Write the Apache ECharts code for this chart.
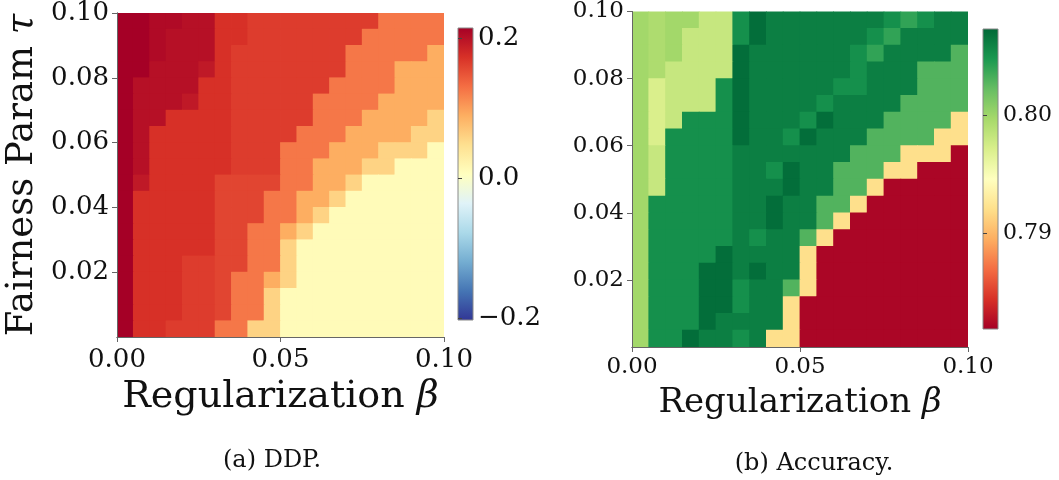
<!DOCTYPE html>
<html>
<head>
<meta charset="utf-8">
<script src="https://cdn.jsdelivr.net/npm/echarts@6/dist/echarts.min.js"></script>
<style>
  html, body { margin: 0; padding: 0; background: #fff; }
  #chart { width: 1059px; height: 480px; }
</style>
</head>
<body>
<div id="chart"></div>
<script>
// Grid cells: 20 regularization levels (columns) x 20 fairness levels (rows, top to bottom)
const betaLevels = ['0.0025','0.0075','0.0125','0.0175','0.0225','0.0275','0.0325','0.0375','0.0425','0.0475',
                    '0.0525','0.0575','0.0625','0.0675','0.0725','0.0775','0.0825','0.0875','0.0925','0.0975'];
const tauLevels = ['0.0975','0.0925','0.0875','0.0825','0.0775','0.0725','0.0675','0.0625','0.0575','0.0525',
                   '0.0475','0.0425','0.0375','0.0325','0.0275','0.0225','0.0175','0.0125','0.0075','0.0025'];

// DDP per cell, rows from tau = 0.0975 down to tau = 0.0025
const ddpValues = [
  [0.214,0.214,0.205,0.205,0.200,0.200,0.172,0.172,0.164,0.164,0.164,0.164,0.164,0.164,0.164,0.164,0.124,0.124,0.124,0.124],
  [0.214,0.214,0.205,0.200,0.200,0.200,0.172,0.172,0.164,0.164,0.164,0.164,0.164,0.164,0.164,0.124,0.124,0.124,0.124,0.124],
  [0.214,0.214,0.205,0.200,0.200,0.200,0.172,0.164,0.164,0.164,0.164,0.164,0.164,0.164,0.124,0.124,0.124,0.124,0.124,0.089],
  [0.214,0.214,0.200,0.200,0.200,0.192,0.172,0.164,0.164,0.164,0.164,0.164,0.164,0.164,0.124,0.124,0.124,0.089,0.089,0.089],
  [0.214,0.200,0.200,0.200,0.200,0.172,0.172,0.164,0.164,0.164,0.164,0.164,0.164,0.124,0.124,0.124,0.124,0.089,0.089,0.089],
  [0.214,0.200,0.200,0.200,0.192,0.172,0.172,0.164,0.164,0.164,0.164,0.164,0.124,0.124,0.124,0.124,0.089,0.089,0.089,0.089],
  [0.214,0.200,0.200,0.172,0.172,0.172,0.172,0.164,0.164,0.164,0.164,0.164,0.124,0.124,0.124,0.089,0.089,0.089,0.089,0.058],
  [0.214,0.200,0.172,0.172,0.172,0.172,0.172,0.164,0.164,0.164,0.164,0.124,0.124,0.124,0.089,0.089,0.089,0.089,0.058,0.058],
  [0.214,0.200,0.172,0.172,0.172,0.172,0.172,0.164,0.164,0.164,0.124,0.124,0.124,0.089,0.089,0.089,0.058,0.058,0.058,0.011],
  [0.214,0.200,0.172,0.172,0.172,0.172,0.172,0.164,0.164,0.164,0.124,0.124,0.089,0.089,0.089,0.058,0.058,0.011,0.011,0.011],
  [0.214,0.192,0.172,0.172,0.172,0.172,0.158,0.158,0.158,0.158,0.124,0.124,0.089,0.089,0.058,0.011,0.011,0.011,0.011,0.011],
  [0.214,0.172,0.172,0.172,0.172,0.172,0.158,0.158,0.158,0.124,0.124,0.089,0.089,0.058,0.011,0.011,0.011,0.011,0.011,0.011],
  [0.214,0.172,0.172,0.172,0.172,0.172,0.158,0.158,0.158,0.124,0.124,0.089,0.058,0.011,0.011,0.011,0.011,0.011,0.011,0.011],
  [0.214,0.172,0.172,0.172,0.172,0.172,0.158,0.158,0.124,0.124,0.089,0.058,0.011,0.011,0.011,0.011,0.011,0.011,0.011,0.011],
  [0.214,0.172,0.172,0.172,0.172,0.172,0.158,0.158,0.124,0.124,0.058,0.011,0.011,0.011,0.011,0.011,0.011,0.011,0.011,0.011],
  [0.214,0.172,0.172,0.172,0.164,0.164,0.158,0.158,0.124,0.124,0.058,0.011,0.011,0.011,0.011,0.011,0.011,0.011,0.011,0.011],
  [0.214,0.172,0.172,0.172,0.164,0.164,0.158,0.124,0.124,0.089,0.058,0.011,0.011,0.011,0.011,0.011,0.011,0.011,0.011,0.011],
  [0.214,0.172,0.172,0.172,0.164,0.164,0.158,0.124,0.124,0.058,0.011,0.011,0.011,0.011,0.011,0.011,0.011,0.011,0.011,0.011],
  [0.214,0.172,0.172,0.172,0.164,0.164,0.158,0.124,0.124,0.058,0.011,0.011,0.011,0.011,0.011,0.011,0.011,0.011,0.011,0.011],
  [0.214,0.172,0.172,0.164,0.164,0.164,0.124,0.124,0.058,0.058,0.011,0.011,0.011,0.011,0.011,0.011,0.011,0.011,0.011,0.011]
];

// Accuracy per cell, same layout
const accValues = [
  [0.7998,0.7993,0.7998,0.7998,0.7981,0.7981,0.8052,0.8070,0.8061,0.8061,0.8061,0.8061,0.8061,0.8061,0.8061,0.8052,0.8040,0.8052,0.8061,0.8061],
  [0.7998,0.7993,0.7998,0.7981,0.7981,0.7981,0.8052,0.8070,0.8061,0.8061,0.8061,0.8061,0.8061,0.8061,0.8052,0.8040,0.8061,0.8061,0.8061,0.8061],
  [0.7998,0.7993,0.7998,0.7981,0.7981,0.7981,0.8070,0.8061,0.8061,0.8061,0.8061,0.8061,0.8061,0.8052,0.8040,0.8061,0.8061,0.8061,0.8061,0.8029],
  [0.7998,0.7993,0.7981,0.7981,0.7981,0.7981,0.8070,0.8061,0.8061,0.8061,0.8061,0.8061,0.8061,0.8052,0.8061,0.8061,0.8061,0.8029,0.8029,0.8029],
  [0.7998,0.7971,0.7981,0.7981,0.7981,0.8052,0.8070,0.8061,0.8061,0.8061,0.8061,0.8061,0.8052,0.8052,0.8061,0.8061,0.8061,0.8029,0.8029,0.8029],
  [0.7998,0.7971,0.7981,0.7981,0.7981,0.8052,0.8070,0.8061,0.8061,0.8061,0.8061,0.8052,0.8061,0.8061,0.8061,0.8061,0.8029,0.8029,0.8029,0.8029],
  [0.7998,0.7971,0.7981,0.8052,0.8052,0.8052,0.8070,0.8061,0.8061,0.8061,0.8052,0.8070,0.8061,0.8061,0.8061,0.8029,0.8029,0.8029,0.8029,0.7921],
  [0.7998,0.7971,0.8052,0.8052,0.8052,0.8052,0.8070,0.8061,0.8061,0.8052,0.8070,0.8061,0.8061,0.8061,0.8029,0.8029,0.8029,0.8029,0.7921,0.7921],
  [0.7998,0.7981,0.8052,0.8052,0.8052,0.8052,0.8061,0.8061,0.8061,0.8061,0.8061,0.8061,0.8061,0.8029,0.8029,0.8029,0.7921,0.7921,0.7921,0.7822],
  [0.7998,0.7981,0.8052,0.8052,0.8052,0.8052,0.8061,0.8061,0.8052,0.8070,0.8061,0.8061,0.8029,0.8029,0.8029,0.7921,0.7921,0.7822,0.7822,0.7822],
  [0.7998,0.7981,0.8052,0.8052,0.8052,0.8052,0.8061,0.8061,0.8061,0.8070,0.8061,0.8061,0.8029,0.8029,0.7921,0.7822,0.7822,0.7822,0.7822,0.7822],
  [0.7998,0.8052,0.8052,0.8052,0.8052,0.8052,0.8061,0.8061,0.8070,0.8061,0.8061,0.8029,0.8029,0.7921,0.7822,0.7822,0.7822,0.7822,0.7822,0.7822],
  [0.7998,0.8052,0.8052,0.8052,0.8052,0.8052,0.8061,0.8061,0.8070,0.8061,0.8061,0.8029,0.7921,0.7822,0.7822,0.7822,0.7822,0.7822,0.7822,0.7822],
  [0.7998,0.8052,0.8052,0.8052,0.8052,0.8052,0.8061,0.8052,0.8061,0.8061,0.8029,0.7921,0.7822,0.7822,0.7822,0.7822,0.7822,0.7822,0.7822,0.7822],
  [0.7998,0.8052,0.8052,0.8052,0.8052,0.8070,0.8061,0.8061,0.8061,0.8061,0.7921,0.7822,0.7822,0.7822,0.7822,0.7822,0.7822,0.7822,0.7822,0.7822],
  [0.7998,0.8052,0.8052,0.8052,0.8070,0.8070,0.8061,0.8070,0.8061,0.8061,0.7921,0.7822,0.7822,0.7822,0.7822,0.7822,0.7822,0.7822,0.7822,0.7822],
  [0.7998,0.8052,0.8052,0.8052,0.8070,0.8070,0.8052,0.8061,0.8061,0.8029,0.7921,0.7822,0.7822,0.7822,0.7822,0.7822,0.7822,0.7822,0.7822,0.7822],
  [0.7998,0.8052,0.8052,0.8052,0.8070,0.8070,0.8052,0.8061,0.8061,0.7921,0.7822,0.7822,0.7822,0.7822,0.7822,0.7822,0.7822,0.7822,0.7822,0.7822],
  [0.7998,0.8052,0.8052,0.8052,0.8070,0.8061,0.8061,0.8061,0.8061,0.7921,0.7822,0.7822,0.7822,0.7822,0.7822,0.7822,0.7822,0.7822,0.7822,0.7822],
  [0.7998,0.8052,0.8052,0.8070,0.8061,0.8061,0.8052,0.8061,0.7921,0.7921,0.7822,0.7822,0.7822,0.7822,0.7822,0.7822,0.7822,0.7822,0.7822,0.7822]
];

// Axis ticks and colour ranges
const betaTicks = [0, 0.05, 0.10];
const tauTicks = [0.02, 0.04, 0.06, 0.08, 0.10];
const ddpRange = [-0.203, 0.214];
const ddpTicks = [-0.2, 0.0, 0.2];
const accRange = [0.7819, 0.8073];
const accTicks = [0.79, 0.80];

// Colour maps, low to high
const rdYlBuR = ['#313695','#4575b4','#74add1','#abd9e9','#e0f3f8','#ffffbf','#fee090','#fdae61','#f46d43','#d73027','#a50026'];
const rdYlGn  = ['#a50026','#d73027','#f46d43','#fdae61','#fee08b','#ffffbf','#d9ef8b','#a6d96a','#66bd63','#1a9850','#006837'];

const FONT = 'DejaVu Serif';
const AXIS_COLOR = '#666';

function cells(matrix) {
  const out = [];
  matrix.forEach((row, r) => row.forEach((v, c) => out.push([c, r, v])));
  return out;
}

// one filled rectangle per cell, slightly overlapping its neighbours so no seams show
function renderCell(params, api) {
  const center = api.coord([api.value(0), api.value(1)]);
  const size = api.size([1, 1]);
  const pad = 0.4;
  return {
    type: 'rect',
    shape: {
      x: center[0] - size[0] / 2 - pad,
      y: center[1] - size[1] / 2 - pad,
      width: size[0] + 2 * pad,
      height: size[1] + 2 * pad
    },
    style: { fill: api.visual('color') }
  };
}

// vertical gradient for a colour bar, top = high end
function barGradient(colors) {
  const n = colors.length;
  return {
    type: 'linear', x: 0, y: 0, x2: 0, y2: 1,
    colorStops: colors.slice().reverse().map((c, i) => ({ offset: i / (n - 1), color: c }))
  };
}

const fmt2 = v => v.toFixed(2);
const fmtSigned1 = v => (v < 0 ? '\u2212' + (-v).toFixed(1) : v.toFixed(1));

const grids = [
  { left: 117, top: 11, width: 327, height: 326 },                 // DDP heatmap
  { left: 632, top: 11, width: 336, height: 336 },                 // accuracy heatmap
  { left: 458, top: 28, width: 15, height: 292, show: true,        // DDP colour bar
    backgroundColor: barGradient(rdYlBuR), borderColor: '#888', borderWidth: 1 },
  { left: 983, top: 29, width: 15, height: 300, show: true,        // accuracy colour bar
    backgroundColor: barGradient(rdYlGn), borderColor: '#888', borderWidth: 1 }
];

function frameAxis(gridIndex, position, data, inverse) {
  return {
    type: 'category', gridIndex, position, data, inverse: !!inverse, z: 5,
    axisLine: { show: true, lineStyle: { color: AXIS_COLOR, width: 1 } },
    axisTick: { show: false }, axisLabel: { show: false }, splitLine: { show: false }
  };
}

function betaAxis(gridIndex, fontSize, nameSize, nameGap, labelMargin) {
  return {
    type: 'value', gridIndex, position: 'bottom', min: 0, max: 0.1, interval: 0.05, z: 5,
    name: 'Regularization {i|β}', nameLocation: 'middle', nameGap,
    nameTextStyle: { fontFamily: FONT, fontSize: nameSize, color: '#111',
      rich: { i: { fontFamily: FONT, fontStyle: 'italic', fontSize: nameSize, color: '#111' } } },
    axisLine: { show: true, lineStyle: { color: AXIS_COLOR, width: 1 } },
    axisTick: { show: true, length: 5, lineStyle: { color: AXIS_COLOR }, customValues: betaTicks },
    axisLabel: { fontFamily: FONT, fontSize, color: '#111', margin: labelMargin, formatter: fmt2,
      customValues: betaTicks },
    splitLine: { show: false }
  };
}

function tauAxis(gridIndex, fontSize, withName) {
  const ax = {
    type: 'value', gridIndex, position: 'left', min: 0, max: 0.1, z: 5,
    axisLine: { show: true, lineStyle: { color: AXIS_COLOR, width: 1 } },
    axisTick: { show: true, length: 5, lineStyle: { color: AXIS_COLOR }, customValues: tauTicks },
    axisLabel: { fontFamily: FONT, fontSize, color: '#111', margin: 8, formatter: fmt2,
      customValues: tauTicks },
    splitLine: { show: false }
  };
  if (withName) {
    ax.name = 'Fairness Param {i|τ}';
    ax.nameLocation = 'middle';
    ax.nameGap = 76;
    ax.nameTextStyle = { fontFamily: FONT, fontSize: 37, color: '#111',
      rich: { i: { fontFamily: FONT, fontStyle: 'italic', fontSize: 37, color: '#111' } } };
  }
  return ax;
}

function barAxis(gridIndex, range, ticks, fontSize, formatter) {
  return {
    type: 'value', gridIndex, position: 'right', min: range[0], max: range[1], z: 5,
    axisLine: { show: false },
    axisTick: { show: true, inside: false, length: 4, lineStyle: { color: '#444' }, customValues: ticks },
    axisLabel: { fontFamily: FONT, fontSize, color: '#111', margin: 5, formatter, customValues: ticks },
    splitLine: { show: false }
  };
}

function hiddenX(gridIndex) {
  return { type: 'value', gridIndex, min: 0, max: 1, show: false };
}

const option = {
  animation: false,
  backgroundColor: '#fff',
  grid: grids,
  xAxis: [
    frameAxis(0, 'top', betaLevels),
    betaAxis(0, 26, 38, 40, 10),
    frameAxis(1, 'top', betaLevels),
    betaAxis(1, 23, 34, 39, 9),
    hiddenX(2),
    hiddenX(3)
  ],
  yAxis: [
    frameAxis(0, 'right', tauLevels, true),
    tauAxis(0, 26, true),
    frameAxis(1, 'right', tauLevels, true),
    tauAxis(1, 23, false),
    barAxis(2, ddpRange, ddpTicks, 26, fmtSigned1),
    barAxis(3, accRange, accTicks, 22, fmt2)
  ],
  visualMap: [
    { type: 'continuous', show: false, seriesIndex: 0, dimension: 2, min: ddpRange[0], max: ddpRange[1],
      inRange: { color: rdYlBuR } },
    { type: 'continuous', show: false, seriesIndex: 1, dimension: 2, min: accRange[0], max: accRange[1],
      inRange: { color: rdYlGn } }
  ],
  series: [
    { type: 'custom', name: 'DDP', xAxisIndex: 0, yAxisIndex: 0, data: cells(ddpValues),
      encode: { x: 0, y: 1 }, renderItem: renderCell, clip: true, silent: true },
    { type: 'custom', name: 'Accuracy', xAxisIndex: 2, yAxisIndex: 2, data: cells(accValues),
      encode: { x: 0, y: 1 }, renderItem: renderCell, clip: true, silent: true }
  ],
  graphic: [
    { type: 'text', x: 272, y: 461, style: { text: '(a) DDP.', font: '24px "DejaVu Serif"',
      fill: '#111', textAlign: 'center', textVerticalAlign: 'middle' } },
    { type: 'text', x: 814, y: 464, style: { text: '(b) Accuracy.', font: '24px "DejaVu Serif"',
      fill: '#111', textAlign: 'center', textVerticalAlign: 'middle' } }
  ]
};

const chart = echarts.init(document.getElementById('chart'), null, { renderer: 'canvas' });
chart.setOption(option);
</script>
</body>
</html>
